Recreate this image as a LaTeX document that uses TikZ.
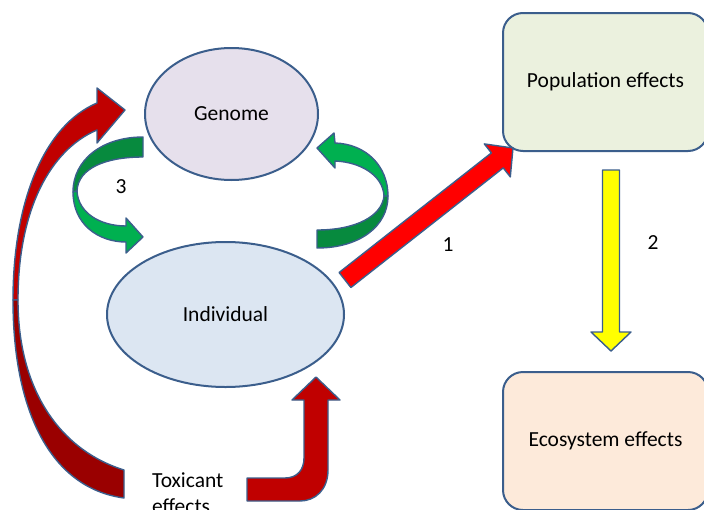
\documentclass[tikz,border=0pt]{standalone}
\usepackage{fontspec}
\setmainfont{Carlito}
\usetikzlibrary{shapes.geometric}

\definecolor{outline}{HTML}{3B5E8C}
\definecolor{genomefill}{HTML}{E6E0EC}
\definecolor{indivfill}{HTML}{DCE6F2}
\definecolor{popfill}{HTML}{EBF1DE}
\definecolor{ecofill}{HTML}{FDEADA}
\definecolor{greenlight}{HTML}{00B050}
\definecolor{greendark}{HTML}{078A3E}
\definecolor{redmain}{HTML}{C00000}
\definecolor{reddark}{HTML}{9A0000}
\definecolor{redbright}{HTML}{FF0000}
\definecolor{yellowarrow}{HTML}{FFFF00}

\begin{document}
\begin{tikzpicture}[x=1pt, y=-1pt,
  font=\fontsize{21.5}{26}\selectfont,
  blob/.style={ellipse, draw=outline, line width=2pt, inner sep=0pt},
  panel/.style={rectangle, rounded corners=20pt, draw=outline, line width=2pt,
                minimum width=205pt, minimum height=138pt},
  blockarrow/.style={draw=outline, line width=1.4pt, line join=round},
  lbl/.style={inner sep=0pt}]

\useasboundingbox (0,0) rectangle (704,509);
\fill[white] (0,0) rectangle (704,509);

% levels of organisation
\node[blob, fill=genomefill, minimum width=173pt, minimum height=132pt] (genome) at (231.5,114) {Genome};
\node[blob, fill=indivfill, minimum width=237pt, minimum height=145pt] (indiv) at (225.5,314.5) {Individual};
\node[panel, fill=popfill] (pop) at (605.5,82) {Population effects};
\node[panel, fill=ecofill] (eco) at (605.5,441) {Ecosystem effects};

% individual -> population
\path[blockarrow, fill=redbright]
  (339.1,272.5) -- (491.4,152.9) -- (484.3,143.9) -- (513,148)
  -- (510.3,176.9) -- (503.2,167.9) -- (350.9,287.5) -- cycle;

% population -> ecosystem
\path[blockarrow, fill=yellowarrow]
  (602.5,170) -- (619.5,170) -- (619.5,332) -- (631,332) -- (611,351)
  -- (591,332) -- (602.5,332) -- cycle;

% genome -> individual (left loop)
\path[blockarrow, fill=greendark]
  (143,137) .. controls (102,137) and (73,160) .. (73,192)
  -- (77,191) .. controls (78,168) and (106,157) .. (143,157) -- cycle;
\path[blockarrow, fill=greenlight]
  (73,192) .. controls (73,224) and (98,242) .. (126,242)
  -- (126,253) -- (143,237) -- (126,218) -- (126,226)
  .. controls (99,226) and (78,212) .. (77,191) -- cycle;

% individual -> genome (right loop)
\path[blockarrow, fill=greendark]
  (317,248) .. controls (360,248) and (388,226) .. (388,196)
  -- (384,196) .. controls (382,216) and (356,230) .. (317,230) -- cycle;
\path[blockarrow, fill=greenlight]
  (388,196) .. controls (388,166) and (366,144) .. (335,143)
  -- (334,133) -- (317,148) -- (335,168) -- (335,161)
  .. controls (360,162) and (383,175) .. (384,196) -- cycle;

% toxicant -> genome
\path[blockarrow, fill=redmain]
  (97,103) -- (97,88) -- (125,110) -- (97,143) -- (97,130)
  .. controls (50,150) and (18,210) .. (18,300)
  -- (13,300) .. controls (13,200) and (45,125) .. (97,103) -- cycle;
\path[blockarrow, fill=reddark]
  (13,300) .. controls (13,410) and (50,488) .. (124,498)
  -- (124,470) .. controls (60,450) and (18,390) .. (18,300) -- cycle;

% toxicant -> individual
\path[blockarrow, fill=redmain]
  (247,478) -- (285,478) .. controls (297,478) and (304,470) .. (304,458)
  -- (304,400) -- (292,400) -- (316,377) -- (340,400) -- (328,400)
  -- (328,470) .. controls (328,490) and (315,501) .. (300,501)
  -- (247,501) -- cycle;

% labels
\node[lbl] (l1) at (448,245) {1};
\node[lbl] (l2) at (653,243) {2};
\node[lbl] (l3) at (121,187) {3};
\node[lbl, anchor=base west, align=left] (tox) at (152,513) {Toxicant\\effects};

\end{tikzpicture}
\end{document}
